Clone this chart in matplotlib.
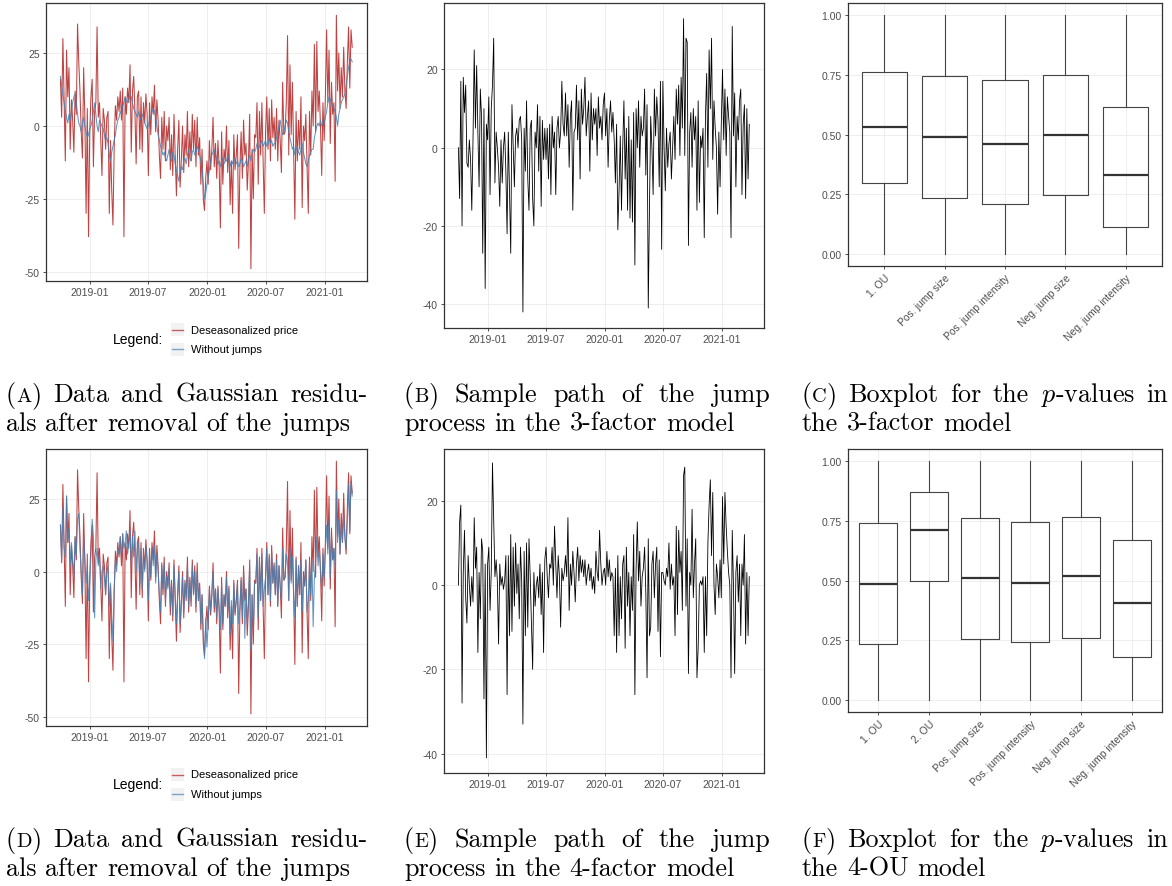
import numpy as np
import pandas as pd
import matplotlib
matplotlib.use('Agg')
import matplotlib.pyplot as plt
import matplotlib.dates as mdates
from matplotlib.lines import Line2D
from matplotlib.patches import Rectangle

# series, 8 values per month, Oct 2018 - Mar 2021
price = [
    16, 3, 30, 8, -12, 26, 10, 20,
    -8, 9, 2, -9, 12, 4, 35, 22,
    12, -2, -11, 20, 3, -30, 6, -38,
    -2, 10, 16, -14, 5, 8, 34, 3,
    8, -5, -17, 6, 2, -8, 3, 5,
    -30, -5, -22, -34, -8, 7, 2, 10,
    5, 12, 2, 13, -38, 10, 4, 13,
    8, 21, -9, 12, 17, 5, -13, 10,
    12, -8, 10, -9, 8, 1, 11, 4,
    -17, 8, -3, 10, 4, 14, -2, 9,
    2, -10, -18, 3, -8, 5, -12, 0,
    -5, 3, -15, -3, -17, 4, -10, -24,
    -8, 2, -21, -12, 0, -16, -3, -10,
    5, -14, -2, -12, 4, -8, 2, -14,
    3, -10, -4, -20, -8, -25, -29, -18,
    -12, -20, -5, -15, -8, 3, -14, -6,
    -18, -5, -14, -35, -2, -20, -8, -12,
    0, -16, -5, -27, -12, -30, -3, -15,
    -10, -3, -42, -14, -2, -18, 2, -10,
    -6, -22, -12, 4, -49, -8, -25, -3,
    -4, 8, -20, 5, -10, 8, -12, -30,
    -2, 10, -8, 6, -12, 9, -4, 3,
    -8, 6, -12, 2, -5, -16, 15, -3,
    -2, 8, 31, -10, 21, -3, 15, -8,
    -32, 5, -12, 2, -8, 10, -28, 0,
    -5, 4, -14, -30, 5, -10, 12, 0,
    28, -2, 29, 5, 12, 0, -17, 8,
    -5, 10, 33, 8, 26, -6, 15, 4,
    8, -19, 38, 12, 25, 6, 20, 10,
    27, 12, 6, 22, 34, 13, 33, 27,
]

no_jumps_3f = [
    17, 14, 11, 8, 5, 3, 1, 4,
    2, 5, 8, 10, 11, 8, 4, 1,
    0, -2, 1, 3, 0, -2, -4, -3,
    -1, 0, 2, 5, 8, 4, 0, -2,
    2, 1, 0, -1, -3, -5, -4, -6,
    -10, -12, -9, -7, -5, -3, 0, 2,
    3, 5, 4, 7, 8, 10, 9, 8,
    9, 11, 10, 8, 6, 5, 4, 3,
    5, 3, 2, 4, 3, 1, 0, -1,
    0, 2, 3, 5, 6, 5, 3, 0,
    -3, -5, -7, -8, -10, -9, -11, -12,
    -10, -8, -11, -12, -9, -10, -13, -15,
    -17, -19, -16, -14, -15, -12, -11, -13,
    -10, -8, -11, -12, -9, -8, -10, -9,
    -7, -8, -10, -12, -15, -20, -25, -23,
    -20, -18, -15, -12, -10, -9, -8, -10,
    -11, -13, -12, -14, -12, -11, -13, -12,
    -12, -10, -11, -14, -12, -13, -11, -12,
    -13, -12, -14, -13, -11, -12, -14, -13,
    -12, -14, -11, -10, -12, -9, -8, -9,
    -8, -6, -8, -7, -6, -5, -7, -6,
    -5, -7, -6, -4, -6, -5, -7, -6,
    -6, -4, -2, 0, 2, -1, -3, -2,
    0, 2, 1, -2, -4, -6, -8, -7,
    -10, -8, -7, -9, -10, -8, -6, -9,
    -11, -13, -14, -12, -10, -9, -8, -8,
    -4, -2, 0, 1, 0, 2, 0, 1,
    1, 3, 5, 8, 10, 9, 8, 7,
    6, 5, 3, 0, 4, 6, 8, 9,
    10, 11, 14, 17, 20, 22, 23, 22,
]

no_jumps_4f = [
    16, 4, 22, 8, 5, 26, 10, 15,
    2, 10, 4, -2, 12, 6, 18, 20,
    8, 0, -8, 12, 4, -4, 2, -10,
    -4, 6, 18, 12, -16, 4, 8, 2,
    6, -6, 0, 2, -2, -8, 0, 2,
    -12, -4, -15, -24, -6, 4, 0, 8,
    6, 12, 4, 13, 8, 10, 14, 6,
    10, 14, 2, 12, 5, 14, 0, 8,
    10, -4, 8, -6, 6, 0, 9, 3,
    -10, 6, -2, 8, 2, 9, -4, 6,
    0, -8, -14, 2, -6, 3, -10, -2,
    -6, 1, -12, -4, -15, 2, -8, -18,
    -8, 0, -18, -10, -2, -14, -4, -9,
    2, -12, -3, -10, 2, -8, 0, -12,
    0, -10, -5, -18, -8, -22, -30, -16,
    -26, -18, -6, -14, -8, 0, -12, -6,
    -16, -6, -12, -20, -4, -18, -8, -12,
    -2, -14, -6, -22, -10, -18, -4, -14,
    -10, -4, -18, -12, -3, -16, 0, -23,
    -6, -18, -10, 2, -27, -8, -20, -4,
    -4, 6, -16, 4, -10, 6, -12, -6,
    -2, 8, -8, 5, -10, 7, -4, 2,
    -8, 4, -12, 2, -5, -10, 8, -3,
    -2, 6, 3, -10, 8, -4, 5, -8,
    -16, 4, -12, 2, -8, 4, -14, -2,
    -5, 4, -14, -10, 3, -8, 4, -19,
    -2, 4, 12, 2, 8, 0, -6, 6,
    -2, 8, 16, 6, 18, -2, 12, 4,
    8, 2, 28, 10, 18, 6, 16, 10,
    20, 12, 8, 18, 30, 14, 31, 26,
]

jumps_3f = [
    0, -13, 17, -20, 18, 9, 16, -4,
    -5, 2, -3, -16, 2, 25, 5, 21,
    4, -10, 15, 8, -27, 10, -36, 6,
    2, 13, -12, 10, 16, 28, -9, 4,
    0, -5, -15, 2, -9, 0, 4, -6,
    -22, 4, -11, -27, 11, 0, -10, 3,
    5, 0, 7, 8, 2, -42, 5, -6,
    12, -8, -16, 5, 7, -13, -20, 4,
    0, 11, -6, 8, -15, 7, -3, 5,
    -3, 5, -8, 6, -12, 8, 0, 4,
    -12, 5, 8, 0, 4, 17, 6, 3,
    14, 3, 11, -5, 8, 12, -16, 4,
    5, 16, 2, 12, -8, 15, 6, 10,
    18, 3, 8, 12, -6, 14, 2, 10,
    6, 10, -2, 13, 5, 8, 2, 11,
    14, 3, 10, -5, 7, 12, 4, 9,
    2, -9, 6, -21, -11, 3, -16, 0,
    12, -8, 5, -16, 8, -18, 2, -19,
    9, -30, 10, 0, 12, -5, 8, 3,
    5, 15, -7, 11, -41, -15, 8, 0,
    -12, 15, 3, 13, 7, -10, 17, -26,
    17, 0, -11, 5, -5, 1, 4, -8,
    0, 8, -3, 15, 6, 16, -2, 18,
    5, 33, -2, 28, 27, -25, 4, 9,
    -5, 10, 2, 8, -16, 12, -14, 3,
    0, 5, -23, 8, 19, -5, 25, 10,
    28, -3, 12, 5, 0, -17, 4, -10,
    6, 20, 2, 15, -2, 13, 8, 4,
    -23, 31, 3, 14, -10, 8, 2, 12,
    15, -12, 6, 11, -13, 10, -8, 6,
]

jumps_4f = [
    0, 15, 19, -28, 3, 13, -3, -9,
    7, 0, -5, 2, -4, 16, 4, 9,
    -16, 3, -8, 11, 8, -27, 5, -41,
    5, 9, -6, 3, 29, 15, 2, 6,
    1, -14, 5, 0, 2, -1, 1, 7,
    -26, 7, -12, 12, -11, 9, -5, 10,
    -2, 5, -8, 9, 1, -33, 8, -12,
    10, -10, 11, 2, -9, -20, 3, -5,
    0, 2, -3, 5, -7, 3, -16, 6,
    9, 2, -3, 5, 4, 9, 0, 14,
    5, -3, 7, 2, -10, 4, 1, 3,
    7, 2, 16, -6, 5, 0, 8, 3,
    -4, 5, 9, 1, 7, 3, 6, 2,
    6, 0, 3, 5, 1, 4, -1, 2,
    -2, 8, 3, 1, 13, 5, 0, 3,
    4, 0, 8, 2, 6, 1, 3, 2,
    -12, 4, -16, 7, -12, 2, -8, 5,
    7, -15, 9, -5, 3, -12, 2, -6,
    12, -26, 4, 15, 1, 8, -5, 2,
    4, 9, -2, -22, 11, -12, -10, 5,
    8, -3, 5, 9, -11, 6, -17, 3,
    3, 1, 0, 4, 2, 10, -1, 5,
    0, 2, -12, 14, -7, 13, 3, 8,
    -6, 26, 28, -5, 11, -21, 3, 0,
    18, -3, 5, 11, -22, -15, 0, 1,
    0, 2, -16, 2, -12, 10, 19, 25,
    7, 22, 0, -7, 5, 2, -3, 6,
    -3, 21, 5, 22, 14, 8, 3, 0,
    -22, 13, 0, -21, 3, 7, -4, 5,
    -12, 5, 0, 12, -14, 3, -12, 2,
]

# p-value boxplots
labels_3f = ['1. OU', 'Pos. jump size', 'Pos. jump intensity', 'Neg. jump size', 'Neg. jump intensity']
q1_3f = [0.296, 0.233, 0.210, 0.247, 0.115]
med_3f = [0.530, 0.490, 0.462, 0.500, 0.330]
q3_3f = [0.761, 0.745, 0.729, 0.750, 0.615]
lo_3f = [0.0, 0.0, 0.0, 0.0, 0.0]
hi_3f = [1.0, 1.0, 1.0, 1.0, 1.0]

labels_4f = ['1. OU', '2. OU', 'Pos. jump size', 'Pos. jump intensity', 'Neg. jump size', 'Neg. jump intensity']
q1_4f = [0.235, 0.500, 0.255, 0.241, 0.258, 0.180]
med_4f = [0.485, 0.712, 0.511, 0.490, 0.517, 0.407]
q3_4f = [0.741, 0.872, 0.762, 0.746, 0.766, 0.670]
lo_4f = [0.0, 0.0, 0.0, 0.0, 0.0, 0.0]
hi_4f = [1.0, 1.0, 1.0, 1.0, 1.0, 1.0]

panel_letters = ['A', 'B', 'C', 'D', 'E', 'F']
captions = [
    ('Data and Gaussian residu-', 'als after removal of the jumps'),
    ('Sample path of the jump', 'process in the 3-factor model'),
    ('Boxplot for the $p$-values in', 'the 3-factor model'),
    ('Data and Gaussian residu-', 'als after removal of the jumps'),
    ('Sample path of the jump', 'process in the 4-factor model'),
    ('Boxplot for the $p$-values in', 'the 4-OU model'),
]

RED = '#B22222'
BLUE = '#4682B4'
CAP_FONT = ['cmr10', 'DejaVu Serif']
CAP_SIZE = 18.8

plt.rcParams['font.family'] = ['Liberation Sans', 'DejaVu Sans']
plt.rcParams['mathtext.fontset'] = 'cm'
plt.rcParams['axes.unicode_minus'] = False

W, H = 1172, 887
fig = plt.figure(figsize=(W / 100, H / 100), dpi=100)
renderer = fig.canvas.get_renderer()


def px_axes(x0, x1, y0, y1):
    return fig.add_axes([x0 / W, 1 - y1 / H, (x1 - x0) / W, (y1 - y0) / H])


def style(ax):
    ax.grid(True, color='#EBEBEB', lw=0.6)
    ax.set_axisbelow(True)
    for s in ax.spines.values():
        s.set_color('#333333')
        s.set_linewidth(0.9)
    ax.tick_params(color='#333333', labelcolor='#4D4D4D', labelsize=7.5, length=2.5, width=0.6, pad=2)


def dates_for(series):
    return pd.date_range('2018-10-01', '2021-03-28', periods=len(series))


def time_axis(ax):
    ax.xaxis.set_major_locator(mdates.MonthLocator(bymonth=[1, 7]))
    ax.xaxis.set_major_formatter(mdates.DateFormatter('%Y-%m'))
    ax.set_xlim(pd.Timestamp('2018-08-17'), pd.Timestamp('2021-05-13'))


def residual_panel(ax, smooth):
    ax.plot(dates_for(price), price, color=RED, lw=0.75, alpha=0.85)
    ax.plot(dates_for(smooth), smooth, color=BLUE, lw=0.75, alpha=0.85)
    ax.set_ylim(-53.2, 42.2)
    ax.set_yticks([-50, -25, 0, 25])
    time_axis(ax)
    style(ax)


def jump_panel(ax, series, ylim):
    ax.plot(dates_for(series), series, color='black', lw=0.6)
    ax.set_ylim(*ylim)
    ax.set_yticks([-40, -20, 0, 20])
    time_axis(ax)
    style(ax)


def box_panel(ax, labels, q1, med, q3, lo, hi):
    stats = [dict(label=l, q1=a, med=m, q3=b, whislo=w0, whishi=w1, fliers=[])
             for l, a, m, b, w0, w1 in zip(labels, q1, med, q3, lo, hi)]
    ax.bxp(stats, widths=0.75, showcaps=False, showfliers=False,
           boxprops=dict(color='#444444', lw=0.8),
           whiskerprops=dict(color='#444444', lw=0.8),
           medianprops=dict(color='#333333', lw=1.6))
    ax.set_xlim(0.4, len(labels) + 0.6)
    ax.set_ylim(-0.05, 1.05)
    ax.set_yticks([0, 0.25, 0.5, 0.75, 1.0])
    ax.set_yticklabels(['0.00', '0.25', '0.50', '0.75', '1.00'])
    style(ax)
    ax.set_xticklabels(labels, rotation=45, ha='right', va='top', rotation_mode='anchor')


def legend_block(y_mid):
    fig.text(163 / W, 1 - y_mid / H, 'Legend:', ha='right', va='center', fontsize=10)
    for i, (lab, col) in enumerate([('Deseasonalized price', RED), ('Without jumps', BLUE)]):
        yc = y_mid - 9.5 + 19.5 * i
        fig.add_artist(Rectangle((171 / W, 1 - (yc + 6.5) / H), 13 / W, 13 / H,
                                 transform=fig.transFigure, color='#F2F2F2', lw=0, zorder=1))
        fig.add_artist(Line2D([172 / W, 183 / W], [1 - yc / H] * 2, transform=fig.transFigure,
                              color=col, lw=1.0, alpha=0.7, zorder=3))
        fig.text(191 / W, 1 - yc / H, lab, va='center', fontsize=8)


def text_width(t):
    return t.get_window_extent(renderer).width


def caption_line(x0, x1, y, words):
    # words: list of lists of (text, size); x1=None keeps natural spacing,
    # otherwise the words are spread over x0..x1 like justified TeX
    groups = []
    for w in words:
        group = [fig.text(0, 1 - y / H, s, family=CAP_FONT, fontsize=sz, va='baseline') for s, sz in w]
        groups.append(group)
    widths = [sum(text_width(t) for t in g) for g in groups]
    space = 0.333 * CAP_SIZE * 100 / 72
    if x1 is None:
        gap = space
    else:
        gap = max((x1 - x0 - sum(widths)) / max(len(groups) - 1, 1), 0.8 * space)
    x = x0
    for g in groups:
        for t in g:
            t.set_x(x / W)
            x += text_width(t)
        x += gap


axA = px_axes(46, 367, 4, 282)
residual_panel(axA, no_jumps_3f)
axB = px_axes(444, 764, 4, 329)
jump_panel(axB, jumps_3f, (-46.1, 37.0))
axC = px_axes(848, 1162, 4, 267)
box_panel(axC, labels_3f, q1_3f, med_3f, q3_3f, lo_3f, hi_3f)

axD = px_axes(46, 367, 450, 727)
residual_panel(axD, no_jumps_4f)
axE = px_axes(444, 764, 450, 774)
jump_panel(axE, jumps_4f, (-44.6, 32.3))
axF = px_axes(848, 1162, 450, 713)
box_panel(axF, labels_4f, q1_4f, med_4f, q3_4f, lo_4f, hi_4f)

legend_block(340)
legend_block(785)

cap_left = [6, 404, 802]
cap_right1 = [368, 770, 1168]
cap_base = [(402, 431), (847, 876)]
for i, (l1, l2) in enumerate(captions):
    row, col = divmod(i, 3)
    label = [('(', CAP_SIZE), (panel_letters[i], CAP_SIZE * 0.78), (')', CAP_SIZE)]
    words1 = [label] + [[(w, CAP_SIZE)] for w in l1.split(' ')]
    words2 = [[(w, CAP_SIZE)] for w in l2.split(' ')]
    caption_line(cap_left[col], cap_right1[col], cap_base[row][0], words1)
    caption_line(cap_left[col], None, cap_base[row][1], words2)

fig.savefig('out.png', dpi=100)
